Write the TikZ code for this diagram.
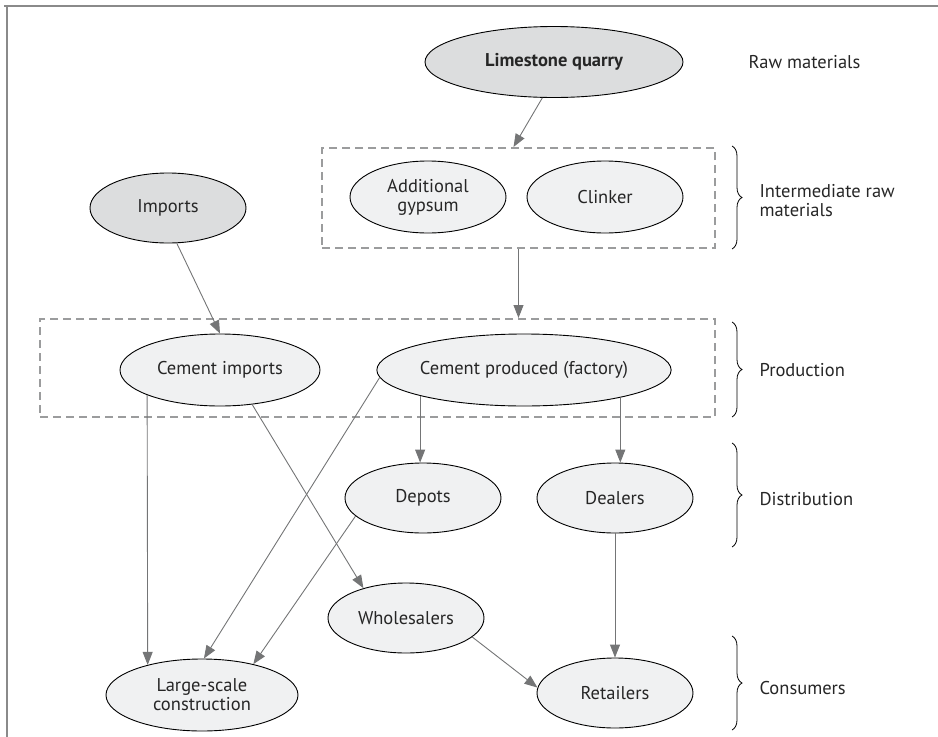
\documentclass[tikz,border=0pt]{standalone}
\usepackage{fontspec}
\setmainfont{PT Sans}
\usetikzlibrary{shapes.geometric,arrows.meta,decorations.pathreplacing}
\definecolor{darkfill}{HTML}{DCDDDE}
\definecolor{lightfill}{HTML}{F0F1F2}
\definecolor{arrowgray}{HTML}{747576}
\definecolor{dashgray}{HTML}{9B9C9D}
\definecolor{framegray}{HTML}{8A8A8A}
\begin{document}
\begin{tikzpicture}[x=1pt,y=-1pt,
  every node/.style={font=\fontsize{18.5}{21}\selectfont},
  ell/.style={ellipse,draw=black,line width=0.9pt,inner sep=0pt,align=center,text=black!85},
  darkell/.style={ell,fill=darkfill},
  lightell/.style={ell,fill=lightfill},
  dbox/.style={draw=dashgray,line width=2pt,dash pattern=on 8pt off 5pt,inner sep=0pt},
  conn/.style={draw=arrowgray,line width=0.9pt,-{Triangle[length=13pt,width=10pt]}},
  lbl/.style={anchor=west,align=left,text=black!85},
  brc/.style={draw=black,line width=0.8pt,decorate,decoration={brace,amplitude=10pt}}
]
\useasboundingbox (0,0) rectangle (938,737);
% frame
\draw[framegray,line width=1.5pt] (4,6) -- (938,6);
\draw[framegray,line width=1.5pt] (7,6) -- (7,737);

% dashed group boxes
\node[dbox,minimum width=393pt,minimum height=100pt] (box1) at (518.5,198) {};
\node[dbox,minimum width=675pt,minimum height=98pt] (box2) at (377.5,368) {};

% nodes
\node[darkell,minimum width=258pt,minimum height=71pt,font=\fontsize{18.5}{21}\selectfont\bfseries] (lime) at (554,62) {Limestone quarry};
\node[lightell,minimum width=156pt,minimum height=72pt] (gyp) at (428,197) {Additional\\[-2pt]gypsum};
\node[lightell,minimum width=156pt,minimum height=72pt] (clink) at (605,197) {Clinker};
\node[darkell,minimum width=156pt,minimum height=70pt] (imports) at (168,208) {Imports};
\node[lightell,minimum width=200pt,minimum height=72pt] (cimp) at (220,370) {Cement imports};
\node[lightell,minimum width=258pt,minimum height=72pt] (cprod) at (524,370) {Cement produced (factory)};
\node[lightell,minimum width=156pt,minimum height=70pt] (depots) at (423,498) {Depots};
\node[lightell,minimum width=156pt,minimum height=70pt] (dealers) at (615,498) {Dealers};
\node[lightell,minimum width=156pt,minimum height=70pt] (whole) at (406,618) {Wholesalers};
\node[lightell,minimum width=192pt,minimum height=72pt] (large) at (202,695) {Large-scale\\[-2pt]construction};
\node[lightell,minimum width=156pt,minimum height=70pt] (retail) at (615,693) {Retailers};

% labels
\node[lbl] (lraw) at (745,62) {Raw materials};
\node[lbl] (linter) at (756,201) {Intermediate raw\\[-2pt]materials};
\node[lbl] (lprod) at (756,370) {Production};
\node[lbl] (ldist) at (756,499) {Distribution};
\node[lbl] (lcons) at (756,688) {Consumers};

% braces
\draw[brc] (732,146) -- (732,249);
\draw[brc] (732,322) -- (732,417);
\draw[brc] (732,443) -- (732,547);
\draw[brc] (732,636) -- (732,730);

% connectors
\draw[conn] (lime.252) -- ([xshift=-5pt]box1.north);
\draw[conn] (box1.south) -- (box1.south |- box2.north);
\draw[conn] (imports.284) -- (cimp.north);
\draw[conn] (cimp.199) -- (large.151);
\draw[conn] (cimp.313) -- (whole.145);
\draw[conn] (cprod.183) -- (large.87);
\draw[conn] (cprod.194) -- (cprod.194 |- depots.north);
\draw[conn] (cprod.344) -- (cprod.344 |- dealers.north);
\draw[conn] (depots.195) -- (large.31);
\draw[conn] (dealers.south) -- (retail.north);
\draw[conn] (whole.344) -- (retail.176);
\end{tikzpicture}
\end{document}
